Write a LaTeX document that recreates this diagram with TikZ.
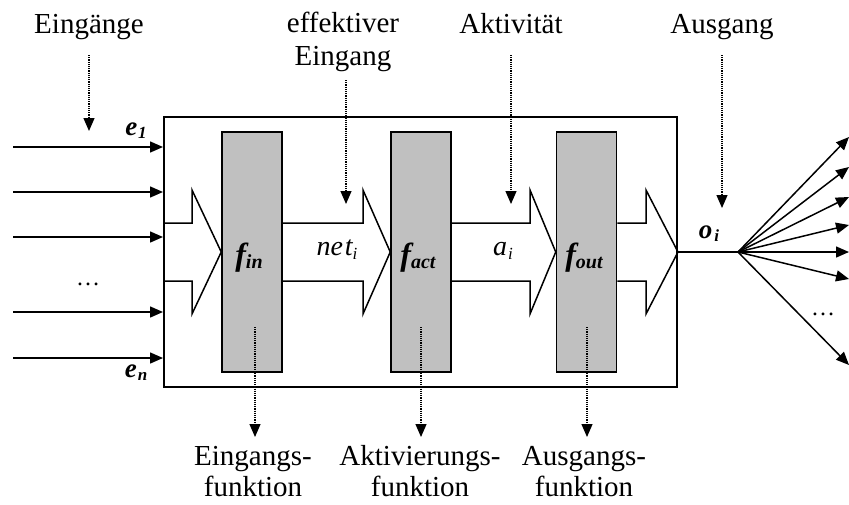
\documentclass[tikz,border=0pt]{standalone}
\usepackage{fontspec}
\setmainfont{Liberation Serif}
\usetikzlibrary{arrows.meta}
\definecolor{fgray}{HTML}{C0C0C0}
\begin{document}
\begin{tikzpicture}[x=1pt,y=-1pt,
  lbl/.style={font=\fontsize{29}{33}\selectfont, inner sep=0pt, align=center},
  blbl/.style={font=\fontsize{29}{31}\selectfont, inner sep=0pt, align=center},
  fbox/.style={draw, line width=1.5pt, fill=fgray, minimum width=60pt, minimum height=240pt, inner sep=0pt},
  sig/.style={line width=1.5pt, -{Triangle[length=13pt,width=11pt]}},
  dotarr/.style={densely dotted, line width=1.2pt, -{Triangle[length=13pt,width=11pt]}},
  bigarrow/.style={line width=1.5pt, line join=miter},
  flbl/.style={inner sep=0pt, anchor=base, font=\fontsize{32}{32}\selectfont\bfseries\itshape},
  vlbl/.style={inner sep=0pt, anchor=base, font=\fontsize{28}{28}\selectfont\itshape},
  elbl/.style={inner sep=0pt, anchor=base, font=\fontsize{27}{27}\selectfont\bfseries\itshape},
  dots/.style={inner sep=0pt, font=\fontsize{24}{24}\selectfont}
]
\useasboundingbox (0,0) rectangle (849,504);

% neuron box
\node[draw, line width=2pt, minimum width=513pt, minimum height=270pt, inner sep=0pt] (neuron) at (420.5,252) {};

% function boxes
\node[fbox] (fin)  at (252,252) {};
\node[fbox] (fact) at (421,252) {};
\node[fbox] (fout) at (586.5,252) {};

\node[flbl] (lfin)  at (249,265) {f\raisebox{-3pt}{\fontsize{20}{20}\selectfont in}};
\node[flbl] (lfact) at (418,265) {f\raisebox{-3pt}{\fontsize{20}{20}\selectfont act}};
\node[flbl] (lfout) at (584,265) {f\raisebox{-3pt}{\fontsize{20}{20}\selectfont out}};

% big arrows
\draw[bigarrow] (neuron.west |- 0,223) -- (192,223) -- (192,190) -- (fin.west) -- (192,314) -- (192,281) -- (neuron.west |- 0,281);
\draw[bigarrow] (fin.east |- 0,223) -- (363,223) -- (363,190) -- (fact.west) -- (363,314) -- (363,281) -- (fin.east |- 0,281);
\draw[bigarrow] (fact.east |- 0,223) -- (530,223) -- (530,190) -- (fout.west) -- (530,314) -- (530,281) -- (fact.east |- 0,281);
\draw[bigarrow] (fout.east |- 0,223) -- (646,223) -- (646,190) -- (neuron.east) -- (646,314) -- (646,281) -- (fout.east |- 0,281);

\node[vlbl] (net) at (337,255) {ne\hspace{2pt}t\raisebox{-4pt}{\fontsize{17}{17}\selectfont i}};
\node[vlbl] (ai) at (503,255) {a\hspace{1pt}\raisebox{-4pt}{\fontsize{17}{17}\selectfont i}};

% inputs
\foreach \n/\y in {1/147,2/192,3/237,4/312,5/358}{
  \coordinate (in\n) at (13,\y);
  \draw[sig] (in\n) -- (in\n -| neuron.west);
}
\node[elbl] (e1) at (136,135) {e\hspace{1pt}\raisebox{-3pt}{\fontsize{17}{17}\selectfont 1}};
\node[elbl] (en) at (136,377) {e\hspace{1pt}\raisebox{-3pt}{\fontsize{17}{17}\selectfont n}};
\node[dots] (dl) at (88,284) {\dots};

% output
\coordinate (hub) at (738,252);
\draw[line width=1.5pt] (neuron.east) -- (hub);
\node[elbl] (oi) at (709,238) {o\hspace{2pt}\raisebox{-3pt}{\fontsize{17}{17}\selectfont i}};
\foreach \n/\y in {1/137,2/167,3/197,4/225,5/252,6/279,7/365}{
  \coordinate (out\n) at (849,\y);
  \draw[sig] (hub) -- (out\n);
}
\node[dots] (dr) at (823,314) {\dots};

% top labels
\node[lbl, anchor=base] (tein) at (89,33) {Eingänge};
\node[lbl, anchor=base] (teff) at (343,65) {effektiver\\Eingang};
\node[lbl, anchor=base] (takt) at (511,33) {Aktivität};
\node[lbl, anchor=base] (taus) at (722,33) {Ausgang};

\coordinate (a1s) at (89,55);  \coordinate (a1e) at (89,131);
\coordinate (a2s) at (346,80); \coordinate (a2e) at (346,204);
\coordinate (a3s) at (511,55); \coordinate (a3e) at (511,204);
\coordinate (a4s) at (722,55); \coordinate (a4e) at (722,208);
\draw[dotarr] (a1s) -- (a1e);
\draw[dotarr] (a2s) -- (a2e);
\draw[dotarr] (a3s) -- (a3e);
\draw[dotarr] (a4s) -- (a4e);

% bottom labels
\node[blbl, anchor=base] (bein) at (253,496) {Eingangs-\\funktion};
\node[blbl, anchor=base] (bakt) at (420,496) {Aktivierungs-\\funktion};
\node[blbl, anchor=base] (baus) at (584,496) {Ausgangs-\\funktion};

\coordinate (b1s) at (255,327); \coordinate (b1e) at (255,437);
\coordinate (b2s) at (421,327); \coordinate (b2e) at (421,437);
\coordinate (b3s) at (587,327); \coordinate (b3e) at (587,437);
\draw[dotarr] (b1s) -- (b1e);
\draw[dotarr] (b2s) -- (b2e);
\draw[dotarr] (b3s) -- (b3e);
\end{tikzpicture}
\end{document}
